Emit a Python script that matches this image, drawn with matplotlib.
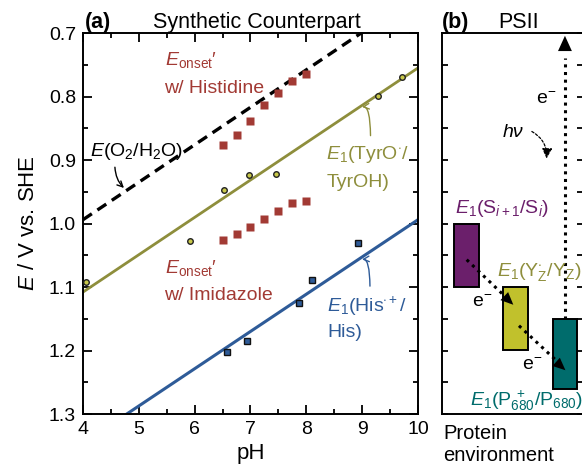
import matplotlib
matplotlib.use("Agg")
import matplotlib.pyplot as plt
from matplotlib.patches import Rectangle
from matplotlib.ticker import MultipleLocator, FormatStrFormatter

plt.rcParams['font.family'] = ['Liberation Sans', 'DejaVu Sans']
plt.rcParams['mathtext.fontset'] = 'custom'
plt.rcParams['mathtext.rm'] = 'Liberation Sans'
plt.rcParams['mathtext.it'] = 'Liberation Sans:italic'
plt.rcParams['mathtext.bf'] = 'Liberation Sans:bold'

BROWN = "#a23a34"
OLIVE = "#8e8e3c"
BLUE = "#2e5b98"
PURPLE = "#6b1f6b"
YELLOW = "#c1c12c"
TEAL = "#006c6c"

# ---- panel (a) data ----
o2_ph = [4.0, 10.0]
o2_E = [0.994, 0.640]
tyr_ph = [4.0, 10.0]
tyr_E = [1.108, 0.755]
his_ph = [4.0, 10.0]
his_E = [1.346, 0.994]

onset_ph = [6.5, 6.75, 7.0, 7.25, 7.5, 7.75, 8.0]
onset_histidine = [0.877, 0.860, 0.838, 0.813, 0.795, 0.775, 0.765]
onset_imidazole = [1.026, 1.017, 1.006, 0.993, 0.980, 0.967, 0.964]

tyr_pts_ph = [4.05, 5.91, 6.52, 6.98, 7.46, 9.29, 9.72]
tyr_pts_E = [1.092, 1.028, 0.947, 0.924, 0.922, 0.799, 0.769]

his_pts_ph = [6.58, 6.93, 7.86, 8.11, 8.92]
his_pts_E = [1.202, 1.185, 1.125, 1.089, 1.030]

# ---- panel (b) data ----
box_x = [0.085, 0.433, 0.787]
box_w = [0.177, 0.177, 0.170]
box_lo = [1.00, 1.10, 1.15]
box_hi = [1.10, 1.20, 1.26]
box_colors = [PURPLE, YELLOW, TEAL]

W, H = 582, 466
fig = plt.figure(figsize=(W / 100, H / 100), dpi=100)


def px_axes(x0, x1, y0, y1):
    return fig.add_axes([x0 / W, 1 - y1 / H, (x1 - x0) / W, (y1 - y0) / H])


ax = px_axes(83, 418, 33, 414)
axb = px_axes(442, 583, 33, 414)

for a in (ax, axb):
    a.set_ylim(1.3, 0.7)
    for s in a.spines.values():
        s.set_linewidth(1.4)

FS = 14

# panel (a)
ax.set_xlim(4, 10)
ax.plot(o2_ph, o2_E, color="black", lw=2.4, dashes=(3.2, 2.0))
ax.plot(tyr_ph, tyr_E, color=OLIVE, lw=2.0)
ax.plot(his_ph, his_E, color=BLUE, lw=2.2)
ax.plot(onset_ph, onset_histidine, "s", color=BROWN, ms=5.6, mec="none")
ax.plot(onset_ph, onset_imidazole, "s", color=BROWN, ms=5.6, mec="none")
ax.plot(tyr_pts_ph, tyr_pts_E, "o", mfc="#c8c84a", mec="#222222", mew=1.0,
        ms=4.0, clip_on=False, zorder=4)
ax.plot(his_pts_ph, his_pts_E, "s", mfc=BLUE, mec="#111111", mew=1.0,
        ms=3.8, zorder=4)

ax.xaxis.set_major_locator(MultipleLocator(1))
ax.xaxis.set_minor_locator(MultipleLocator(0.5))
ax.yaxis.set_major_locator(MultipleLocator(0.1))
ax.yaxis.set_minor_locator(MultipleLocator(0.05))
ax.yaxis.set_major_formatter(FormatStrFormatter("%.1f"))
ax.tick_params(which="both", direction="in", top=True, right=True,
               width=1.3, labelsize=14, pad=5)
ax.tick_params(which="major", length=6.5)
ax.tick_params(which="minor", length=3.6)
ax.set_xlabel("pH", fontsize=16, labelpad=4)
ax.set_ylabel("$E$ / V vs. SHE", fontsize=16, labelpad=7)

ax.text(5.46, 0.743, "$E_{\\mathrm{onset}}$′", color=BROWN, fontsize=FS,
        va="center")
ax.text(5.46, 0.787, "w/ Histidine", color=BROWN, fontsize=FS, va="center")
ax.text(5.46, 1.070, "$E_{\\mathrm{onset}}$′", color=BROWN, fontsize=FS,
        va="center")
ax.text(5.46, 1.113, "w/ Imidazole", color=BROWN, fontsize=FS, va="center")

ax.text(4.12, 0.887, "$E$(O$_2$/H$_2$O)", color="black", fontsize=FS,
        va="center")
ax.annotate("", xy=(4.77, 0.947), xytext=(4.57, 0.907),
            arrowprops=dict(arrowstyle="->", color="black", lw=1.0,
                            connectionstyle="angle3,angleA=-90,angleB=-40"))

ax.text(8.36, 0.892, "$E_1$(TyrO$^{\\cdot}$/", color=OLIVE, fontsize=FS,
        va="center")
ax.text(8.36, 0.936, "TyrOH)", color=OLIVE, fontsize=FS, va="center")
ax.annotate("", xy=(8.95, 0.818), xytext=(9.15, 0.866),
            arrowprops=dict(arrowstyle="->", color=OLIVE, lw=1.0,
                            connectionstyle="angle3,angleA=90,angleB=30"))

ax.text(8.37, 1.131, "$E_1$(His$^{\\cdot+}$/", color=BLUE, fontsize=FS,
        va="center")
ax.text(8.37, 1.172, "His)", color=BLUE, fontsize=FS, va="center")
ax.annotate("", xy=(8.95, 1.058), xytext=(9.14, 1.103),
            arrowprops=dict(arrowstyle="->", color=BLUE, lw=1.0,
                            connectionstyle="angle3,angleA=90,angleB=30"))

ax.text(0.005, 1.013, "(a)", transform=ax.transAxes, fontsize=15.5,
        fontweight="bold", va="baseline")
ax.text(0.518, 1.013, "Synthetic Counterpart", transform=ax.transAxes,
        fontsize=15.5, ha="center", va="baseline")

# panel (b)
axb.set_xlim(0, 1)
axb.set_xticks([])
axb.yaxis.set_major_locator(MultipleLocator(0.05))
axb.tick_params(axis="y", direction="in", left=True, right=True,
                labelleft=False, length=4.0, width=1.3)

for x, w, lo, hi, c in zip(box_x, box_w, box_lo, box_hi, box_colors):
    axb.add_patch(Rectangle((x, lo), w, hi - lo, facecolor=c,
                            edgecolor="black", lw=1.4, zorder=2))

dot = dict(ls=(0, (1, 1.5)), lw=2.2, color="black", zorder=3)
axb.plot([0.872, 0.872], [1.15, 0.74], **dot)
axb.annotate("", xy=(0.872, 0.70), xytext=(0.872, 0.76),
             arrowprops=dict(arrowstyle="-|>,head_length=1.1,head_width=0.5",
                             color="black", lw=0), annotation_clip=False)

axb.plot([0.175, 0.49], [1.057, 1.124], **dot)
axb.annotate("", xy=(0.52, 1.131), xytext=(0.44, 1.114),
             arrowprops=dict(arrowstyle="-|>,head_length=0.9,head_width=0.4",
                             color="black", lw=0))
axb.plot([0.546, 0.86], [1.161, 1.226], **dot)
axb.annotate("", xy=(0.89, 1.234), xytext=(0.81, 1.218),
             arrowprops=dict(arrowstyle="-|>,head_length=0.9,head_width=0.4",
                             color="black", lw=0))

axb.text(0.742, 0.805, "e$^{-}$", fontsize=FS, ha="center", va="center")
axb.text(0.282, 1.125, "e$^{-}$", fontsize=FS, ha="center", va="center")
axb.text(0.636, 1.223, "e$^{-}$", fontsize=FS, ha="center", va="center")
axb.text(0.50, 0.857, "hν", fontsize=FS, style="italic", ha="center",
         va="center")
axb.annotate("", xy=(0.74, 0.902), xytext=(0.62, 0.853),
             arrowprops=dict(arrowstyle="-|>,head_length=0.6,head_width=0.3",
                             color="black", lw=0.9, ls=(0, (2, 1.5)),
                             connectionstyle="arc3,rad=-0.35"))

axb.text(0.092, 0.976, "$E_1$(S$_{i+1}$/S$_i$)", color=PURPLE, fontsize=FS,
         va="center")
axb.text(0.39, 1.076, "$E_1$(Y$_\\mathrm{Z}^{\\bullet}$/Y$_\\mathrm{Z}$)",
         color=OLIVE, fontsize=FS, va="center")
axb.text(0.199, 1.279, "$E_1$(P$_{680}^{\\ +}$/P$_{680}$)", color=TEAL,
         fontsize=FS, va="center")

axb.text(0.0, 1.013, "(b)", transform=axb.transAxes, fontsize=15.5,
         fontweight="bold", va="baseline")
axb.text(0.546, 1.013, "PSII", transform=axb.transAxes, fontsize=15.5,
         ha="center", va="baseline")

fig.text(443 / W, 1 - 424 / H, "Protein\nenvironment", fontsize=14.5,
         ha="left", va="top", linespacing=1.2)

fig.savefig("out.png", dpi=100)
